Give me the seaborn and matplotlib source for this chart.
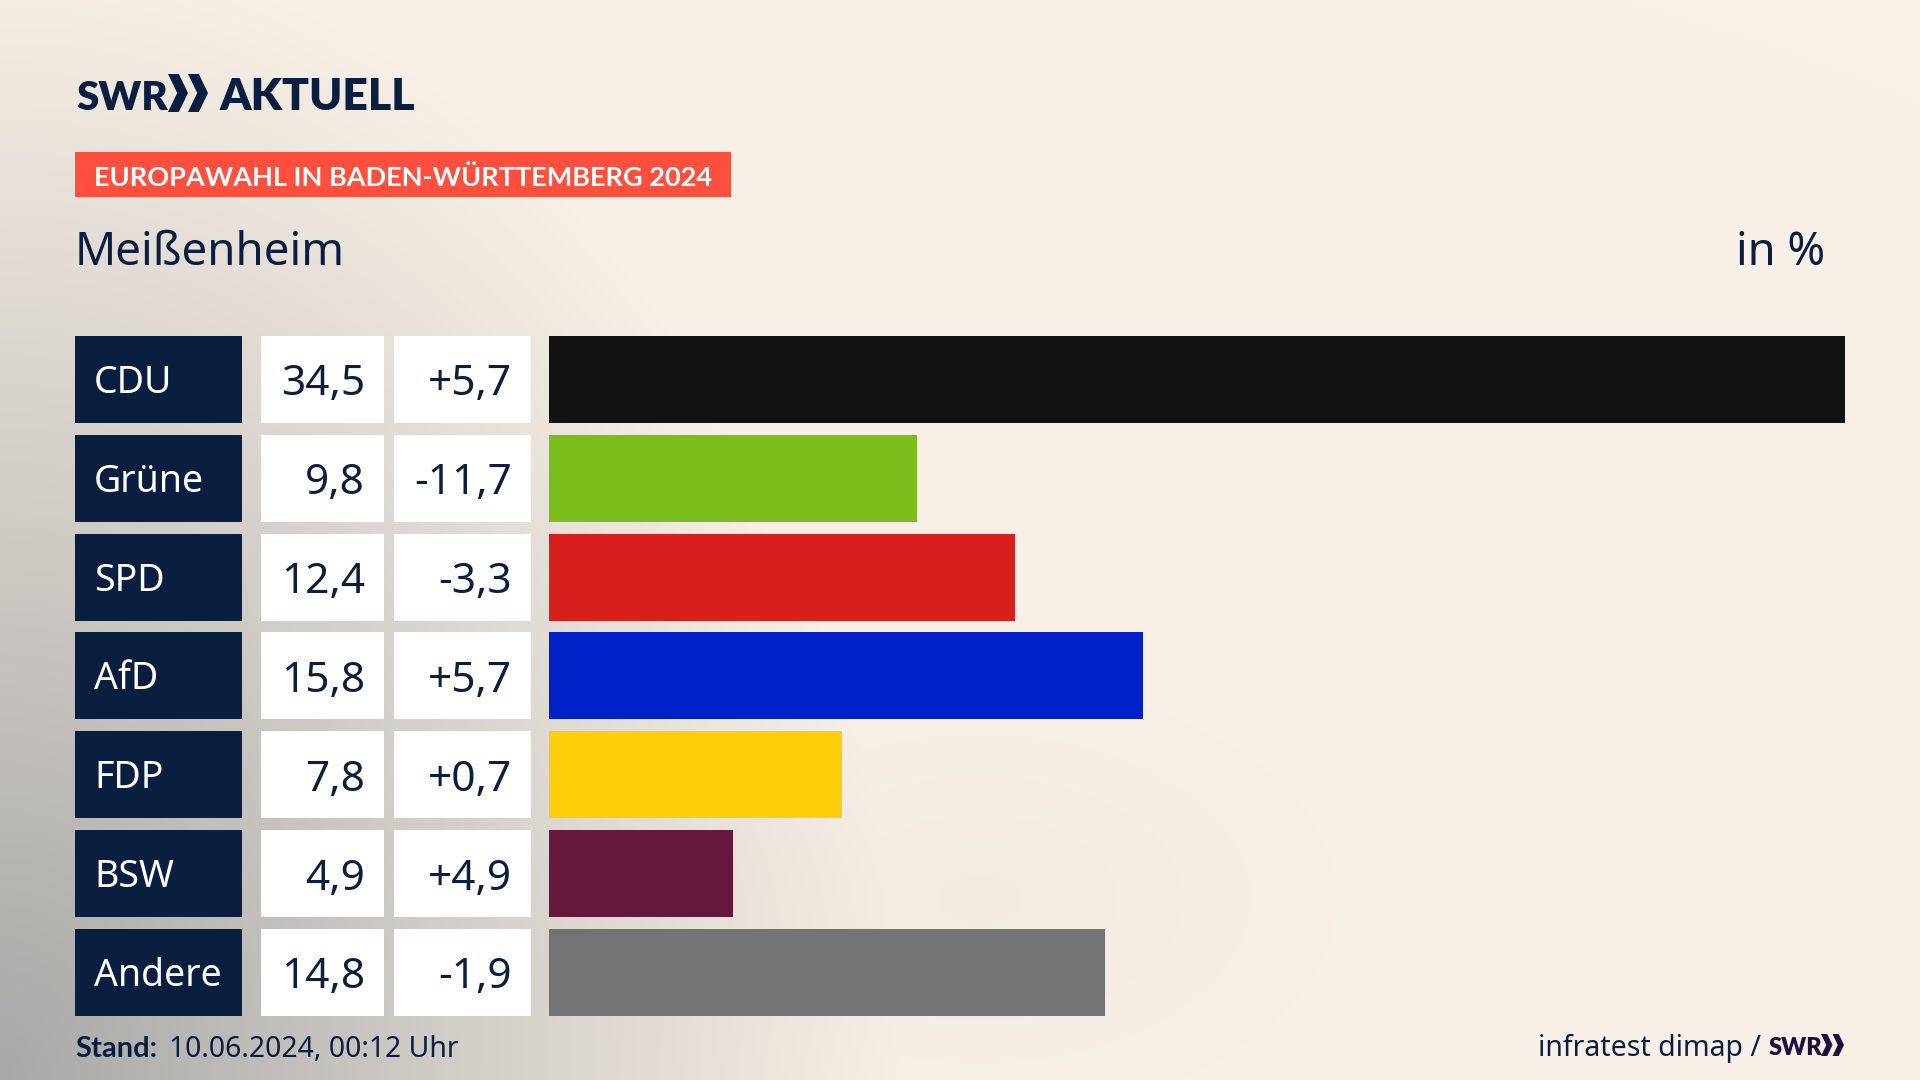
#!/usr/bin/env python3
"""Europawahl result card for Meissenheim, rebuilt with a seaborn bar chart."""

import matplotlib
matplotlib.use("Agg")
import matplotlib.pyplot as plt
from matplotlib.patches import Polygon, Rectangle
import numpy as np
import pandas as pd
import seaborn as sns

PARTIES = ["CDU", "Grüne", "SPD", "AfD", "FDP", "BSW", "Andere"]
SHARES = [34.5, 9.8, 12.4, 15.8, 7.8, 4.9, 14.8]
CHANGES = [5.7, -11.7, -3.3, 5.7, 0.7, 4.9, -1.9]
BAR_COLORS = ["#121212", "#7BBD1A", "#D81F1C", "#0020C8", "#FFCE0A", "#66183C", "#717375"]

NAVY = "#0A1F3F"
BEIGE = np.array([249, 241, 231]) / 255
GRAY = np.array([168, 168, 166]) / 255

W, H = 1920, 1080
ROW_TOP = 336
ROW_H = 87
ROW_PITCH = 98.83

sns.set_theme(style="white")
plt.rcParams["font.family"] = ["Noto Sans", "DejaVu Sans"]
BOLD = ["Lato", "DejaVu Sans"]


def chevrons(ax, x, y0, y1, w, color):
    """Two arrowheads of the SWR logo, in pixel coordinates."""
    mid = (y0 + y1) / 2
    for left in (x, x + w * 0.5):
        wing = w * 0.27
        tip = w * 0.5
        ax.add_patch(Polygon(
            [(left, y0), (left + wing, y0), (left + tip, mid), (left + wing, y1), (left, y1),
             (left + tip - wing, mid)],
            closed=True, color=color, lw=0))


fig = plt.figure(figsize=(19.2, 10.8), dpi=100)

# background and all fixed furniture in pixel coordinates
bg = fig.add_axes([0, 0, 1, 1], zorder=0)
yy, xx = np.mgrid[0:H:270j, 0:W:480j]
dist = np.sqrt((xx / 900) ** 2 + ((H - yy) / 1150) ** 2)
shade = np.clip(1 - dist, 0, 1)
shade += 0.07 * np.exp(-(((xx - 980) / 280) ** 2 + ((yy - 900) / 170) ** 2))
img = BEIGE + (GRAY - BEIGE) * np.clip(shade, 0, 1)[..., None]
bg.imshow(img, extent=[0, W, H, 0], aspect="auto", interpolation="bilinear")
bg.set_xlim(0, W)
bg.set_ylim(H, 0)
bg.axis("off")

# logo
bg.text(76, 110, "SWR", family=BOLD, weight="heavy", fontsize=29, color=NAVY, va="baseline")
chevrons(bg, 168, 74, 112, 40, NAVY)
bg.text(220, 110, "AKTUELL", family=BOLD, weight="heavy", fontsize=32, color=NAVY, va="baseline")

# banner and headings
bg.add_patch(Rectangle((75, 152), 656, 45, color="#FF4F3F", lw=0))
bg.text(94, 175, "EUROPAWAHL IN BADEN-WÜRTTEMBERG 2024", family=BOLD, weight="bold", fontsize=19.5,
        color="white", va="center_baseline")
bg.text(75, 265, "Meißenheim", fontsize=32.9, color=NAVY, va="baseline")
bg.text(1825, 265, "in %", fontsize=32.7, color=NAVY, ha="right", va="baseline")

# table cells to the left of the bars
for i, (party, share, change) in enumerate(zip(PARTIES, SHARES, CHANGES)):
    top = ROW_TOP + i * ROW_PITCH
    mid = top + ROW_H / 2
    bg.add_patch(Rectangle((75, top), 167, ROW_H, color=NAVY, lw=0))
    bg.add_patch(Rectangle((261, top), 123, ROW_H, color="white", lw=0))
    bg.add_patch(Rectangle((394, top), 137, ROW_H, color="white", lw=0))
    bg.text(94, mid - 1, party, fontsize=27, color="white", va="center_baseline")
    bg.text(365, mid, f"{share:.1f}".replace(".", ","), fontsize=30.5, color=NAVY,
            ha="right", va="center_baseline")
    bg.text(512, mid, f"{change:+.1f}".replace(".", ","), fontsize=30.5, color=NAVY,
            ha="right", va="center_baseline")

# footer
bg.text(75, 1057, "Stand:", family=BOLD, weight="bold", fontsize=21, color=NAVY, va="baseline")
bg.text(169, 1057, "10.06.2024, 00:12 Uhr", fontsize=20.4, color=NAVY, va="baseline")
bg.text(1538, 1056, "infratest dimap /", fontsize=20.5, color=NAVY, va="baseline")
bg.text(1769, 1055, "SWR", family=BOLD, weight="heavy", fontsize=17, color="#1E0F3F", va="baseline")
chevrons(bg, 1821, 1034, 1056, 23, "#1E0F3F")

# bars: axes spans exactly the bar area, one category per row
df = pd.DataFrame({"party": PARTIES, "share": SHARES})
ax_top = ROW_TOP + ROW_H / 2 - ROW_PITCH / 2
ax_h = ROW_PITCH * len(PARTIES)
ax = fig.add_axes([549 / W, 1 - (ax_top + ax_h) / H, (1845 - 549) / W, ax_h / H], zorder=1)
ax.patch.set_alpha(0)
sns.barplot(data=df, x="share", y="party", hue="party", palette=BAR_COLORS, order=PARTIES,
            hue_order=PARTIES, width=ROW_H / ROW_PITCH, saturation=1, legend=False,
            linewidth=0, edgecolor="none", ax=ax)
ax.set_xlim(0, max(SHARES))
ax.set_xlabel("")
ax.set_ylabel("")
ax.set_xticks([])
ax.set_yticks([])
sns.despine(ax=ax, left=True, bottom=True)

fig.savefig("out.png", dpi=100)
